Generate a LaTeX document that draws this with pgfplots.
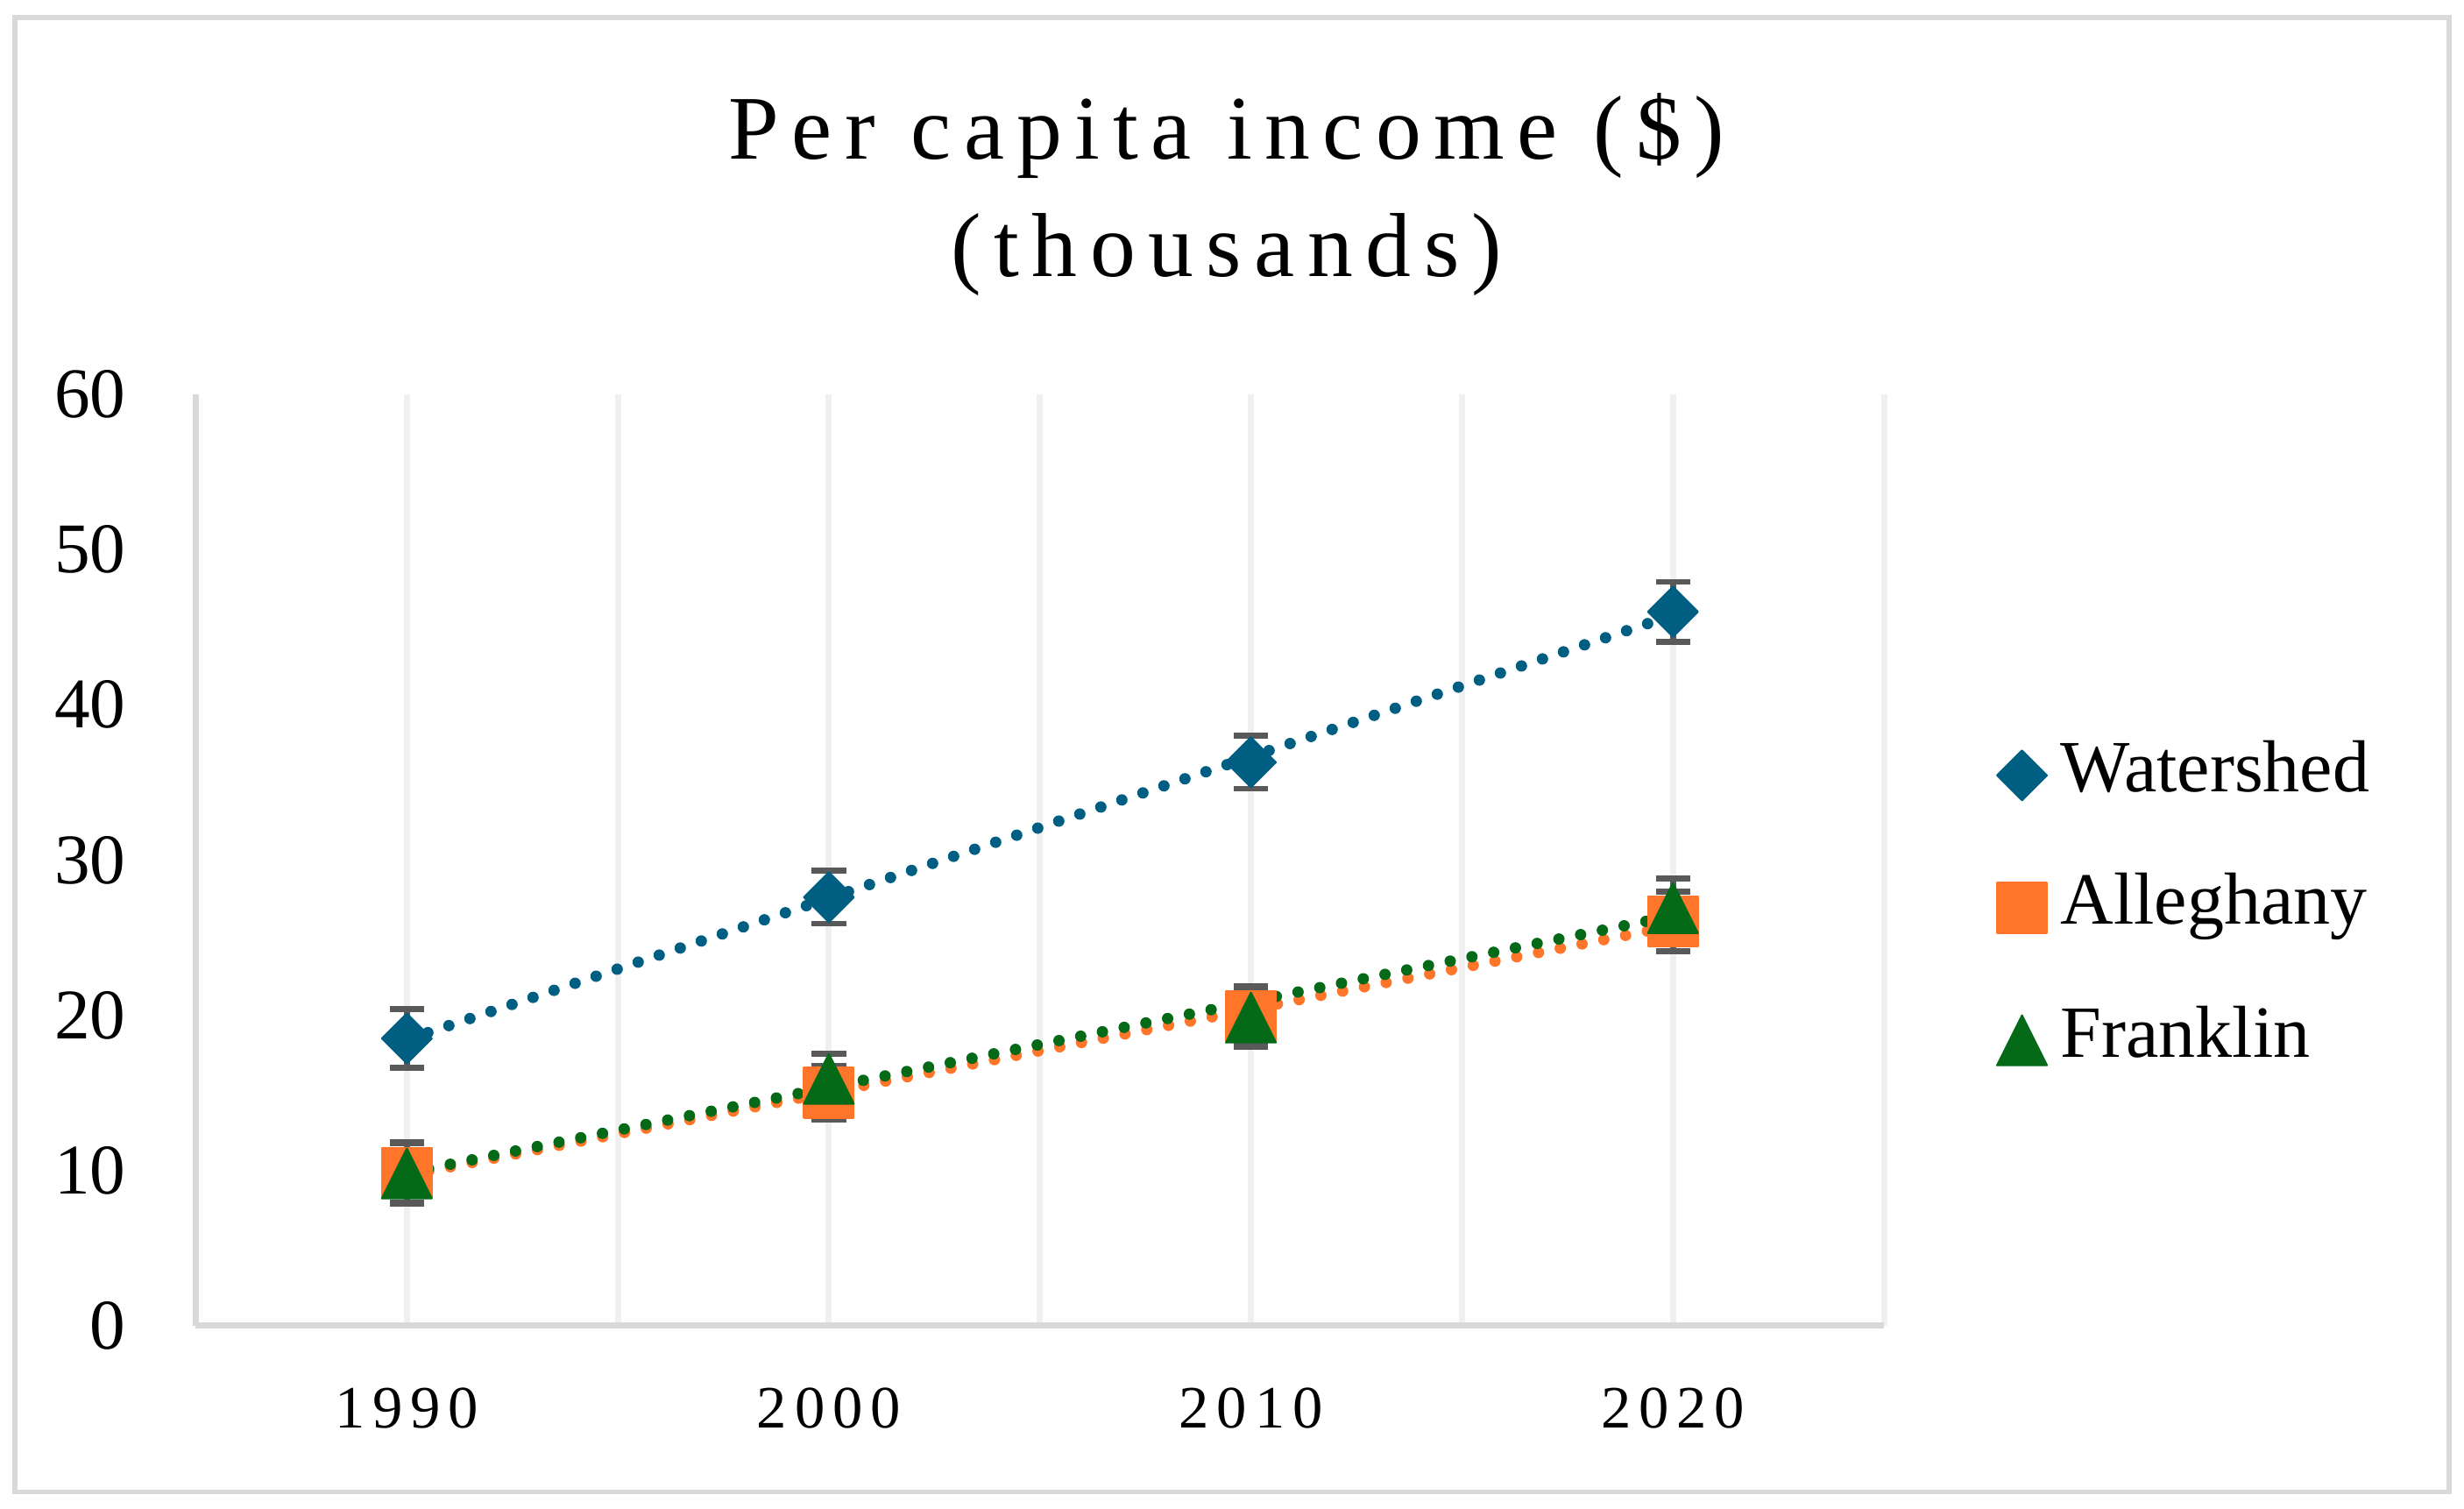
\documentclass[border=0pt]{standalone}
\usepackage{fontspec}
\setmainfont{Liberation Serif}
\newfontfamily\titlefont[LetterSpace=14]{Liberation Serif}
\newfontfamily\xtickfont[LetterSpace=13]{Liberation Serif}
\usepackage{pgfplots}
\usepackage{pgfplotstable}
\pgfplotsset{compat=1.18}

\definecolor{cW}{HTML}{005E83}
\definecolor{cA}{HTML}{FF7529}
\definecolor{cF}{HTML}{046A18}
\definecolor{cErr}{HTML}{595959}
\definecolor{cAxis}{HTML}{D9D9D9}
\definecolor{cGrid}{HTML}{F0F0F0}

\pgfdeclareplotmark{xdiamond}{%
  \pgfpathmoveto{\pgfqpoint{0pt}{\pgfplotmarksize}}%
  \pgfpathlineto{\pgfqpoint{\pgfplotmarksize}{0pt}}%
  \pgfpathlineto{\pgfqpoint{0pt}{-\pgfplotmarksize}}%
  \pgfpathlineto{\pgfqpoint{-\pgfplotmarksize}{0pt}}%
  \pgfpathclose
  \pgfusepathqfillstroke}
\pgfdeclareplotmark{xtri}{%
  \pgfpathmoveto{\pgfqpoint{0pt}{\pgfplotmarksize}}%
  \pgfpathlineto{\pgfqpoint{\pgfplotmarksize}{-\pgfplotmarksize}}%
  \pgfpathlineto{\pgfqpoint{-\pgfplotmarksize}{-\pgfplotmarksize}}%
  \pgfpathclose
  \pgfusepathqfillstroke}

\pgfplotstableread{
x    t  W     We    A     Ae    F     Fe
1990 0  18.5  1.90  9.85  1.95  9.80  1.95
2000 1  27.6  1.70  15.0  1.72  15.9  1.63
2010 2  36.3  1.70  19.95 1.90  19.85 1.90
2020 3  46.0  1.93  26.05 1.92  26.9  1.90
}\data

\pgfplotsset{
  errstyle/.style={
    error bars/.cd, y dir=both, y explicit,
    error bar style={color=cErr, line width=0.95bp, solid},
    error mark=-,
    error mark options={rotate=90, color=cErr, mark size=2.8bp, line width=0.95bp, solid}},
}

\begin{document}
\begin{tikzpicture}
\begin{axis}[
  scale only axis, width=274bp, height=151.1bp,
  xmin=1985, xmax=2025, ymin=0, ymax=60,
  clip=false,
  axis x line*=bottom, axis y line*=left,
  axis line style={cAxis, line width=1bp},
  major tick length=0pt, minor tick length=0pt,
  xtick={1990,2000,2010,2020},
  xticklabels={1990,2000,2010,2020},
  minor xtick={1995,2005,2015,2025},
  xmajorgrids, xminorgrids,
  major grid style={cGrid, line width=1bp},
  minor grid style={cGrid, line width=1bp},
  ytick={0,10,20,30,40,50,60},
  /pgf/number format/assume math mode=true,
  yticklabel style={font=\fontsize{11.6}{13}\selectfont, anchor=east, inner sep=0pt, xshift=-11.2bp},
  xticklabel style={font=\xtickfont\fontsize{9.8}{12}\selectfont, anchor=north, inner sep=0pt, yshift=-10bp},
  legend style={draw=none, fill=none, inner sep=0pt, outer sep=0pt,
    at={(axis description cs:1.0823,0.4539)}, anchor=west, xshift=-4.2bp, yshift=-0.8bp,
    row sep=11.1bp,
    font=\fontsize{12}{14}\selectfont,
    nodes={inner sep=0pt, text height=7.9bp, text depth=2.5bp},
    /tikz/every odd column/.append style={column sep=2.2bp}},
  legend cell align=left,
  legend image code/.code={\draw[#1, only marks] plot coordinates {(4.2bp,0bp)};},
]
% markers with error bars
\addplot[only marks, mark=xdiamond, mark size=4.05bp, color=cW,
  mark options={solid, fill=cW, line width=0.3bp, line join=round}, errstyle]
  table[x=x, y=W, y error=We] {\data};
\addlegendentry{Watershed}
\addplot[only marks, mark=square*, mark size=4.05bp, color=cA,
  mark options={solid, fill=cA, line width=0.3bp, line join=round}, errstyle]
  table[x=x, y=A, y error=Ae] {\data};
\addlegendentry{Alleghany}
\addplot[only marks, mark=xtri, mark size=4.05bp, color=cF,
  mark options={solid, fill=cF, line width=0.3bp, line join=round}, errstyle]
  table[x=x, y=F, y error=Fe] {\data};
\addlegendentry{Franklin}
% linear trendlines
\addplot[cW, line width=1.85bp, line cap=round, dash pattern=on 0pt off 3.6bp, forget plot]
  table[x=x, y={create col/linear regression={x=t, y=W}}] {\data};
\addplot[cA, line width=1.85bp, line cap=round, dash pattern=on 0pt off 3.6bp, forget plot]
  table[x=x, y={create col/linear regression={x=t, y=A}}] {\data};
\addplot[cF, line width=1.85bp, line cap=round, dash pattern=on 0pt off 3.6bp, forget plot]
  table[x=x, y={create col/linear regression={x=t, y=F}}] {\data};
% title
\node[anchor=base, font=\titlefont\fontsize{14.8}{17}\selectfont] at (axis description cs:0.6107,1.2526) {Per capita income (\$)};
\node[anchor=base, font=\titlefont\fontsize{14.8}{17}\selectfont] at (axis description cs:0.6107,1.1271) {(thousands)};
\coordinate (imgSW) at (axis description cs:-0.1160,-0.1968);
\coordinate (imgNE) at (axis description cs:1.3436,1.4237);
\coordinate (frSW) at (axis description cs:-0.1072,-0.1789);
\coordinate (frNE) at (axis description cs:1.3348,1.4049);
\end{axis}
\path (imgSW) rectangle (imgNE);
\draw[cAxis, line width=0.75bp] (frSW) rectangle (frNE);
\end{tikzpicture}
\end{document}
